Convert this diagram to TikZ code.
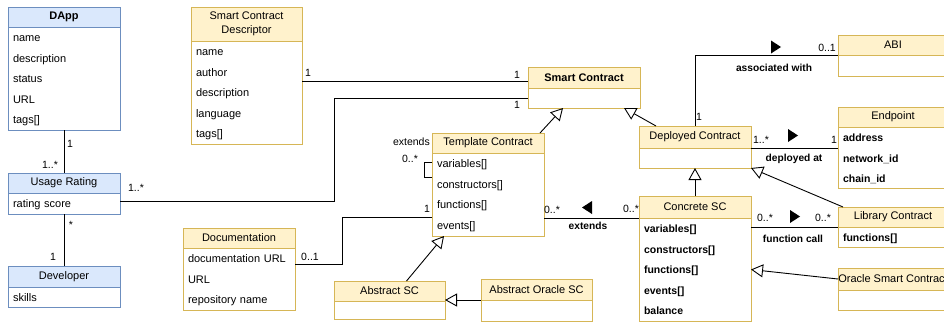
\documentclass[tikz,border=0pt]{standalone}
\usepackage{fontspec}
\setmainfont{Liberation Sans}
\usetikzlibrary
  {
    arrows.meta,              % open triangles for generalisation
    positioning,              % place nodes relative to other nodes
  }

\definecolor{bluefill}{HTML}{DAE8FC}
\definecolor{bluedraw}{HTML}{6C8EBF}
\definecolor{yellowfill}{HTML}{FFF2CC}
\definecolor{yellowdraw}{HTML}{D6B656}

\begin{document}
\begin{tikzpicture}
    [
      x=1pt, y=-1pt,
      font=\fontsize{11}{13}\selectfont,
      head/.style=
        {
          rectangle,
          draw,
          line width=1pt,
          outer sep=0pt,
          inner sep=0pt,
          anchor=north west,
          align=center,
        },
      body/.style=
        {
          rectangle,
          draw,
          fill=white,
          line width=1pt,
          outer sep=0pt,
          inner xsep=5pt,
          inner ysep=0pt,
          anchor=north west,
          align=left,
          font=\fontsize{11}{20.6}\selectfont,
          execute at begin node=\strut,
          execute at end node=\strut,
        },
      empty body/.style=
        {
          rectangle,
          draw,
          fill=white,
          line width=1pt,
          outer sep=0pt,
          inner sep=0pt,
          anchor=north west,
        },
      blue head/.style={head, draw=bluedraw, fill=bluefill},
      blue body/.style={body, draw=bluedraw},
      yellow head/.style={head, draw=yellowdraw, fill=yellowfill},
      yellow body/.style={body, draw=yellowdraw},
      yellow empty/.style={empty body, draw=yellowdraw},
      assoc/.style={draw, line width=0.9pt},
      inherit/.style=
        {
          draw,
          line width=0.9pt,
          -{Triangle[open, length=12pt, width=13pt]},
        },
      mult/.style={inner sep=0pt, font=\fontsize{10.5}{12}\selectfont},
      verb/.style={inner sep=0pt, font=\fontsize{10.2}{12}\selectfont\bfseries},
      dirmark/.pic={\fill (-4,-6.5) -- (6,0) -- (-4,6.5) -- cycle;},
    ]
    \path[use as bounding box, clip] (0,0) rectangle (944,322);

    % people and applications
    \node[blue head, minimum width=112, minimum height=20] (dapp) at (8,7) {\textbf{DApp}};
    \node[blue body, text width=102pt, minimum height=103] (dapp body) at (dapp.south west)
      {name\\description\\status\\URL\\tags[]};
    \node[blue head, minimum width=112, minimum height=20] (usage) at (8,173) {Usage Rating};
    \node[blue body, text width=102pt, minimum height=21] (usage body) at (usage.south west)
      {rating score};
    \node[blue head, minimum width=112, minimum height=21] (dev) at (8,266) {Developer};
    \node[blue body, text width=102pt, minimum height=20] (dev body) at (dev.south west)
      {skills};

    % descriptive classes
    \node[yellow head, minimum width=111, minimum height=34,
          font=\fontsize{11}{14}\selectfont] (scd) at (191,7) {Smart Contract\\Descriptor};
    \node[yellow body, text width=101pt, minimum height=102] (scd body) at (scd.south west)
      {name\\author\\description\\language\\tags[]};
    \node[yellow head, minimum width=112, minimum height=20] (doc) at (183,228) {Documentation};
    \node[yellow body, text width=102pt, minimum height=62] (doc body) at (doc.south west)
      {documentation URL\\URL\\repository name};

    % contract hierarchy
    \node[yellow head, minimum width=112, minimum height=21] (smart) at (528,67) {\textbf{Smart Contract}};
    \node[yellow empty, minimum width=112, minimum height=20] (smart body) at (smart.south west) {};
    \node[yellow head, minimum width=112, minimum height=20] (tpl) at (432,133) {Template Contract};
    \node[yellow body, text width=102pt, minimum height=83] (tpl body) at (tpl.south west)
      {variables[]\\constructors[]\\functions[]\\events[]};
    \node[yellow head, minimum width=111, minimum height=20] (asc) at (334,281) {Abstract SC};
    \node[yellow empty, minimum width=111, minimum height=18] (asc body) at (asc.south west) {};
    \node[yellow head, minimum width=111, minimum height=21] (aosc) at (481,279) {Abstract Oracle SC};
    \node[yellow empty, minimum width=111, minimum height=21] (aosc body) at (aosc.south west) {};
    \node[yellow head, minimum width=112, minimum height=22] (dep) at (639,126) {Deployed Contract};
    \node[yellow empty, minimum width=112, minimum height=20] (dep body) at (dep.south west) {};
    \node[yellow head, minimum width=112, minimum height=22] (csc) at (639,196) {Concrete SC};
    \node[yellow body, text width=102pt, minimum height=102,
          font=\fontsize{10.5}{20.6}\selectfont\bfseries] (csc body) at (csc.south west)
      {variables[]\\constructors[]\\functions[]\\events[]\\balance};

    % right column
    \node[yellow head, minimum width=110, minimum height=20] (abi) at (838,35) {ABI};
    \node[yellow empty, minimum width=110, minimum height=21] (abi body) at (abi.south west) {};
    \node[yellow head, minimum width=110, minimum height=20] (endpoint) at (838,107) {Endpoint};
    \node[yellow body, text width=100pt, minimum height=61,
          font=\fontsize{10.5}{20.6}\selectfont\bfseries] (endpoint body) at (endpoint.south west)
      {address\\network\_id\\chain\_id};
    \node[yellow head, minimum width=110, minimum height=20] (lib) at (838,207) {Library Contract};
    \node[yellow body, text width=100pt, minimum height=20,
          font=\fontsize{10.5}{20.6}\selectfont\bfseries] (lib body) at (lib.south west)
      {functions[]};
    \node[yellow head, minimum width=110, minimum height=22] (osc) at (838,268) {Oracle Smart Contract};
    \node[yellow empty, minimum width=110, minimum height=20] (osc body) at (osc.south west) {};

    % associations
    \draw[assoc] (dapp body.south) -- (usage.north);
    \draw[assoc] (usage body.south) -- (dev.north);
    \draw[assoc] (scd body.east |- 0,81) -- (smart.west |- 0,81);
    \draw[assoc] (usage body.east |- 0,201) -- ++(214,0) |- (smart body.west);
    \draw[assoc] (doc body.east |- 0,264) -- ++(47,0) |- (tpl body.west |- 0,217);
    \draw[assoc] (tpl body.west |- 0,162) -- ++(-8,0) |- (tpl body.west |- 0,177);
    \draw[assoc] (csc.south west) -- (csc.south west -| tpl body.east);
    \draw[assoc] (dep.north) |- (abi body.north west);
    \draw[assoc] (dep.south east) -- (dep.south east -| endpoint.west);
    \draw[assoc] (lib body.north west -| csc body.east) -- (lib body.north west);

    % generalisations
    \draw[inherit] ([xshift=-4pt]tpl.north east) -- ([xshift=35pt]smart body.south west);
    \draw[inherit] ([xshift=17pt]dep.north west) -- ([xshift=-16pt]smart body.south east);
    \draw[inherit] (csc.north) -- (dep body.south);
    \draw[inherit] ([xshift=5pt]lib.north west) -- (dep body.south east);
    \draw[inherit] (osc.west) -- (csc body.east);
    \draw[inherit] ([xshift=17pt]asc.north) -- ([xshift=12pt]tpl body.south west);
    \draw[inherit] (aosc body.north west) -- (aosc body.north west -| asc.east);

    % multiplicities and role names
    \node[mult] (m1) at (70,144) {1};
    \node[mult] (m2) at (50,165) {1..*};
    \node[mult] (m3) at (71,225) {*};
    \node[mult] (m4) at (53,257) {1};
    \node[mult] (m5) at (308,73) {1};
    \node[mult] (m6) at (517,75) {1};
    \node[mult] (m7) at (136,188) {1..*};
    \node[mult] (m8) at (517,105) {1};
    \node[mult, anchor=east] (self) at (430,142) {extends};
    \node[mult] (m9) at (410,159) {0..*};
    \node[mult] (m10) at (310,257) {0..1};
    \node[mult] (m11) at (427,209) {1};
    \node[mult] (m12) at (552,210) {0..*};
    \node[mult] (m13) at (631,209) {0..*};
    \node[verb] (ext) at (588,226) {extends};
    \pic[rotate=180] at (588,207.5) {dirmark};
    \node[mult] (m14) at (699,117) {1};
    \node[mult] (m15) at (827,48) {0..1};
    \node[verb] (assoc) at (774,68) {associated with};
    \pic at (775,47) {dirmark};
    \node[mult] (m16) at (761,140) {1..*};
    \node[mult] (m17) at (834,140) {1};
    \node[verb] (deployed) at (794,159) {deployed at};
    \pic at (792,135.5) {dirmark};
    \node[mult] (m18) at (765,218) {0..*};
    \node[mult] (m19) at (823,218) {0..*};
    \node[verb] (call) at (793,239) {function call};
    \pic at (794,216.5) {dirmark};
  \end{tikzpicture}
\end{document}
